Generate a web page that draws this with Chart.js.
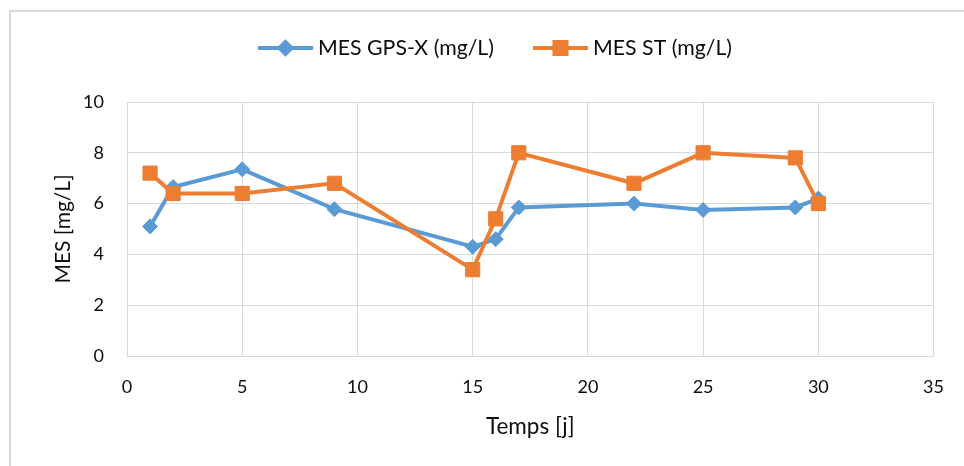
<!DOCTYPE html>
<html>
<head>
<meta charset="utf-8">
<script src="https://cdn.jsdelivr.net/npm/chart.js@4.4.1/dist/chart.umd.min.js"></script>
<style>
  html, body { margin: 0; padding: 0; background: #ffffff; overflow: hidden; }
  #wrap { position: relative; width: 964px; height: 466px; }
  #frame { position: absolute; left: 9px; top: 10px; width: 960px; height: 460px;
           border-left: 2px solid #d9d9d9; border-top: 2px solid #d9d9d9; }
  #c { position: absolute; left: 0; top: 0; }
</style>
</head>
<body>
<div id="wrap">
  <div id="frame"></div>
  <canvas id="c" width="964" height="466"></canvas>
</div>
<script>
// Sampling days and suspended solids (MES) for the two series
const days   = [1, 2, 5, 9, 15, 16, 17, 22, 25, 29, 30];
const mesGpsx = [5.1, 6.65, 7.35, 5.78, 4.3, 4.6, 5.85, 6.0, 5.75, 5.85, 6.2];
const mesSt   = [7.2, 6.4, 6.4, 6.8, 3.4, 5.4, 8.0, 6.8, 8.0, 7.8, 6.0];
const seriesNames = ['MES GPS-X (mg/L)', 'MES ST (mg/L)'];
const xTitle = 'Temps [j]';
const yTitle = 'MES [mg/L]';

const BLUE = '#5b9bd5';
const ORANGE = '#ed7d31';
const GRID = '#d9d9d9';
const TEXT = '#0d0d0d';
const FONT = 'Lato';

const toPoints = (xs, ys) => xs.map((x, i) => ({ x: x, y: ys[i] }));

// Legend drawn as one centred row: line sample with marker, then the label
const legendRow = {
  id: 'legendRow',
  afterDraw(chart, args, opts) {
    const ctx = chart.ctx;
    ctx.save();
    ctx.font = opts.fontSize + 'px ' + FONT;
    ctx.textBaseline = 'middle';
    ctx.textAlign = 'left';
    const items = chart.data.datasets.map(ds => ({ ds: ds, w: ctx.measureText(ds.label).width }));
    const total = items.reduce((s, it) => s + opts.iconW + opts.textGap + it.w, 0) + opts.itemGap * (items.length - 1);
    let x = opts.centerX - total / 2;
    const y = opts.y;
    items.forEach(it => {
      const ds = it.ds;
      ctx.strokeStyle = ds.borderColor;
      ctx.lineWidth = 4;
      ctx.beginPath();
      ctx.moveTo(x, y);
      ctx.lineTo(x + opts.iconW, y);
      ctx.stroke();
      ctx.fillStyle = ds.pointBackgroundColor;
      ctx.strokeStyle = ds.pointBorderColor;
      Chart.helpers.drawPoint(ctx, {
        pointStyle: ds.pointStyle,
        radius: ds.legendRadius,
        borderWidth: 1,
        rotation: 0
      }, x + opts.iconW / 2, y);
      ctx.fillStyle = TEXT;
      ctx.fillText(ds.label, x + opts.iconW + opts.textGap, y);
      x += opts.iconW + opts.textGap + it.w + opts.itemGap;
    });
    ctx.restore();
  }
};

new Chart(document.getElementById('c'), {
  type: 'line',
  data: {
    datasets: [
      {
        label: seriesNames[0],
        data: toPoints(days, mesGpsx),
        borderColor: BLUE,
        backgroundColor: BLUE,
        pointBackgroundColor: BLUE,
        pointBorderColor: BLUE,
        borderWidth: 4,
        pointStyle: 'rectRot',
        pointRadius: 7.5,
        pointBorderWidth: 1,
        legendRadius: 6,
        tension: 0,
        order: 1
      },
      {
        label: seriesNames[1],
        data: toPoints(days, mesSt),
        borderColor: ORANGE,
        backgroundColor: ORANGE,
        pointBackgroundColor: ORANGE,
        pointBorderColor: ORANGE,
        borderWidth: 4,
        pointStyle: 'rect',
        pointRadius: 10,
        pointBorderWidth: 1,
        legendRadius: 8.5,
        tension: 0,
        order: 0
      }
    ]
  },
  options: {
    responsive: false,
    animation: false,
    devicePixelRatio: 1,
    layout: { padding: { left: 48, right: 23, top: 102, bottom: 24 } },
    plugins: {
      legend: { display: false },
      tooltip: { enabled: false },
      legendRow: { centerX: 495, y: 48, iconW: 55, textGap: 5, itemGap: 39, fontSize: 21.3 }
    },
    scales: {
      x: {
        type: 'linear',
        min: 0,
        max: 35,
        ticks: { stepSize: 5, color: TEXT, padding: 20, font: { family: FONT, size: 18 } },
        grid: { color: GRID, lineWidth: 1, drawTicks: false },
        border: { color: GRID, width: 1 },
        title: { display: true, text: xTitle, color: TEXT, padding: { top: 4, bottom: 2 }, font: { family: FONT, size: 22.5 } },
        afterFit(scale) { scale.height = 86; }
      },
      y: {
        min: 0,
        max: 10,
        ticks: { stepSize: 2, color: TEXT, padding: 23, font: { family: FONT, size: 18 } },
        grid: { color: GRID, lineWidth: 1, drawTicks: false },
        border: { color: GRID, width: 1 },
        title: { display: true, text: yTitle, color: TEXT, padding: { top: 3, bottom: 4 }, font: { family: FONT, size: 21 } },
        afterFit(scale) { scale.width = 79; }
      }
    }
  },
  plugins: [legendRow]
});
</script>
</body>
</html>
